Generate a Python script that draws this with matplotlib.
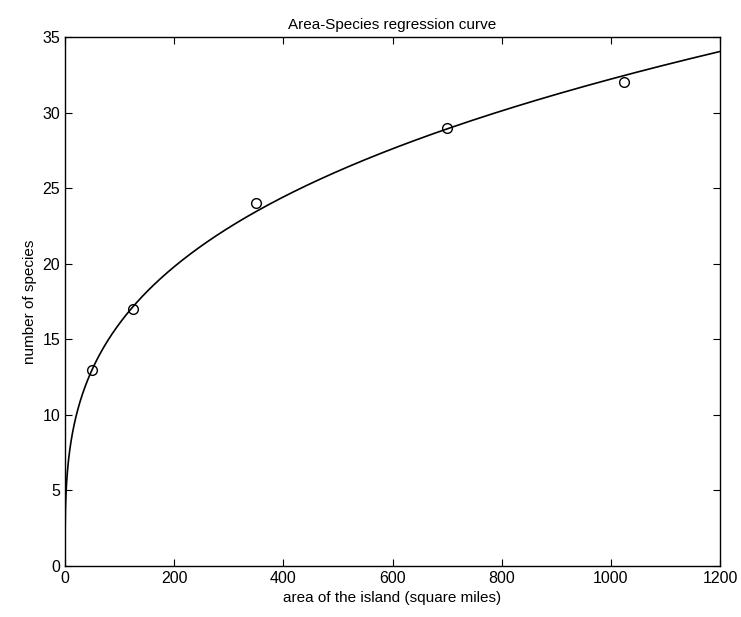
import numpy as np
import matplotlib
matplotlib.use('Agg')
import matplotlib.pyplot as plt

plt.rcParams['font.family'] = ['Liberation Sans', 'DejaVu Sans']

# island areas (square miles) and species counts
area = [50, 125, 350, 700, 1025]
species = [13, 17, 24, 29, 32]

# power-law regression S = c * A^z, fitted in log space
z, logc = np.polyfit(np.log(area), np.log(species), 1)
c = np.exp(logc)
xs = np.linspace(0.1, 1200, 3000)
ys = c * xs ** z

fig = plt.figure(figsize=(7.41, 6.17), dpi=100)
ax = fig.add_axes([65 / 741, 1 - 566 / 617, (720 - 65) / 741, (566 - 37) / 617])
ax.plot(xs, ys, color='black', linewidth=1.2)
ax.plot(area, species, 'o', markerfacecolor='none', markeredgecolor='black',
        markersize=7, markeredgewidth=1)

ax.set_xlim(0, 1200)
ax.set_ylim(0, 35)
ax.set_xticks(range(0, 1201, 200))
ax.set_yticks(range(0, 36, 5))
ax.tick_params(direction='in', top=True, right=True, labelsize=11.5, length=5)
ax.set_xlabel('area of the island (square miles)', fontsize=11)
ax.set_ylabel('number of species', fontsize=11)
ax.set_title('Area-Species regression curve', fontsize=11)
for s in ax.spines.values():
    s.set_linewidth(1)

fig.savefig('out.png', dpi=100)
